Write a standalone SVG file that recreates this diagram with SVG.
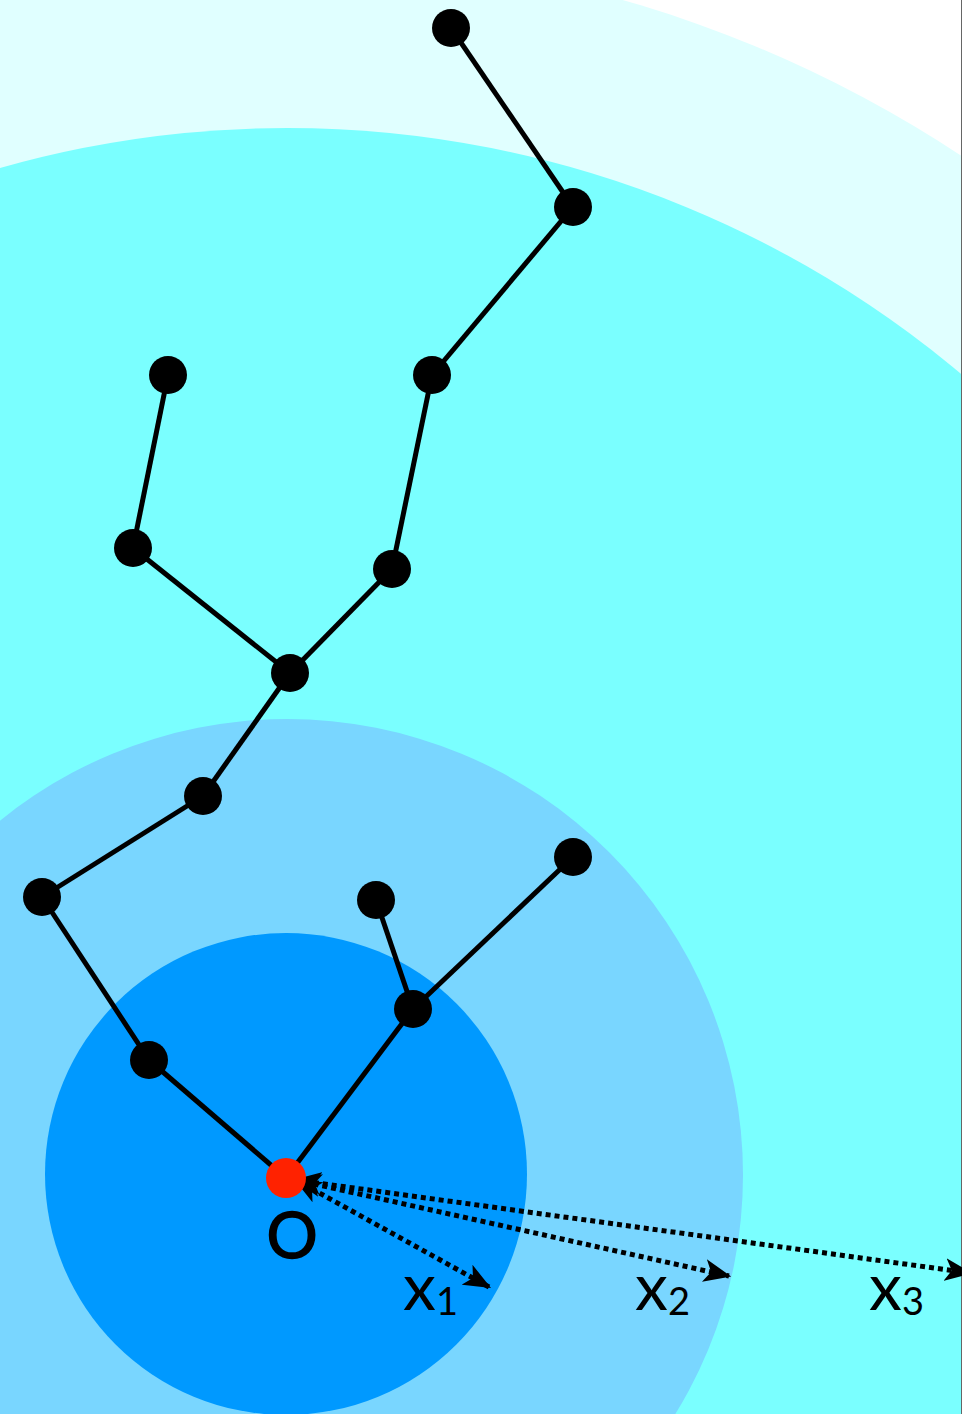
<svg xmlns="http://www.w3.org/2000/svg" width="962" height="1414" viewBox="0 0 962 1414">
<style>
.edge{stroke:#000;stroke-width:5;fill:none}
.node{fill:#000}
.dot{stroke:#000;stroke-width:5;stroke-dasharray:5 4;fill:none}
.lbl{font-family:Lato,"Liberation Sans",sans-serif;fill:#000}
</style>
<defs>
<marker id="ah" viewBox="0 0 12 10" refX="11" refY="5" markerWidth="5.5" markerHeight="4.6" markerUnits="strokeWidth" orient="auto-start-reverse">
<path d="M0,0 L12,5 L0,10 L3,5 Z" fill="#000"/>
</marker>
</defs>
<rect width="962" height="1414" fill="#fff"/>
<g id="zones">
<circle cx="287" cy="1175" r="1222" fill="#e0ffff"/>
<circle cx="287" cy="1175" r="1047" fill="#7affff"/>
<circle cx="287" cy="1175" r="456" fill="#79d6ff"/>
<circle cx="286" cy="1174" r="241" fill="#0099ff"/>
</g>
<line x1="961.5" y1="0" x2="961.5" y2="1414" stroke="#666" stroke-width="1"/>
<g id="connectors">
<line class="edge" x1="451" y1="28" x2="573" y2="207"/>
<line class="edge" x1="573" y1="207" x2="432" y2="375"/>
<line class="edge" x1="432" y1="375" x2="392" y2="569"/>
<line class="edge" x1="392" y1="569" x2="290" y2="673"/>
<line class="edge" x1="168" y1="375" x2="133" y2="548"/>
<line class="edge" x1="133" y1="548" x2="290" y2="673"/>
<line class="edge" x1="290" y1="673" x2="203" y2="796"/>
<line class="edge" x1="203" y1="796" x2="42" y2="897"/>
<line class="edge" x1="42" y1="897" x2="149" y2="1060"/>
<line class="edge" x1="149" y1="1060" x2="286" y2="1178"/>
<line class="edge" x1="286" y1="1178" x2="413" y2="1009"/>
<line class="edge" x1="413" y1="1009" x2="376" y2="900"/>
<line class="edge" x1="413" y1="1009" x2="573" y2="857"/>
<line class="dot" x1="296" y1="1180" x2="489" y2="1287" marker-start="url(#ah)" marker-end="url(#ah)"/>
<line class="dot" x1="296" y1="1180" x2="729" y2="1276" marker-start="url(#ah)" marker-end="url(#ah)"/>
<line class="dot" x1="296" y1="1180" x2="970" y2="1273" marker-start="url(#ah)" marker-end="url(#ah)"/>
</g>
<g id="n1"><circle class="node" cx="451" cy="28" r="19"/></g>
<g id="n2"><circle class="node" cx="573" cy="207" r="19"/></g>
<g id="n3"><circle class="node" cx="432" cy="375" r="19"/></g>
<g id="n4"><circle class="node" cx="392" cy="569" r="19"/></g>
<g id="n5"><circle class="node" cx="290" cy="673" r="19"/></g>
<g id="n6"><circle class="node" cx="168" cy="375" r="19"/></g>
<g id="n7"><circle class="node" cx="133" cy="548" r="19"/></g>
<g id="n8"><circle class="node" cx="203" cy="796" r="19"/></g>
<g id="n9"><circle class="node" cx="42" cy="897" r="19"/></g>
<g id="n10"><circle class="node" cx="149" cy="1060" r="19"/></g>
<g id="n11"><circle class="node" cx="413" cy="1009" r="19"/></g>
<g id="n12"><circle class="node" cx="376" cy="900" r="19"/></g>
<g id="n13"><circle class="node" cx="573" cy="857" r="19"/></g>
<g id="origin"><circle cx="286" cy="1178" r="20" fill="#ff2200"/>
<text class="lbl" x="292" y="1258" font-size="64" text-anchor="middle" stroke="#000" stroke-width="1.5">O</text></g>
<g id="labels">
<text class="lbl" x="403" y="1310" font-size="66">x<tspan font-size="38" dy="5">1</tspan></text>
<text class="lbl" x="635" y="1310" font-size="66">x<tspan font-size="38" dy="5">2</tspan></text>
<text class="lbl" x="869" y="1310" font-size="66">x<tspan font-size="38" dy="5">3</tspan></text>
</g>
</svg>
